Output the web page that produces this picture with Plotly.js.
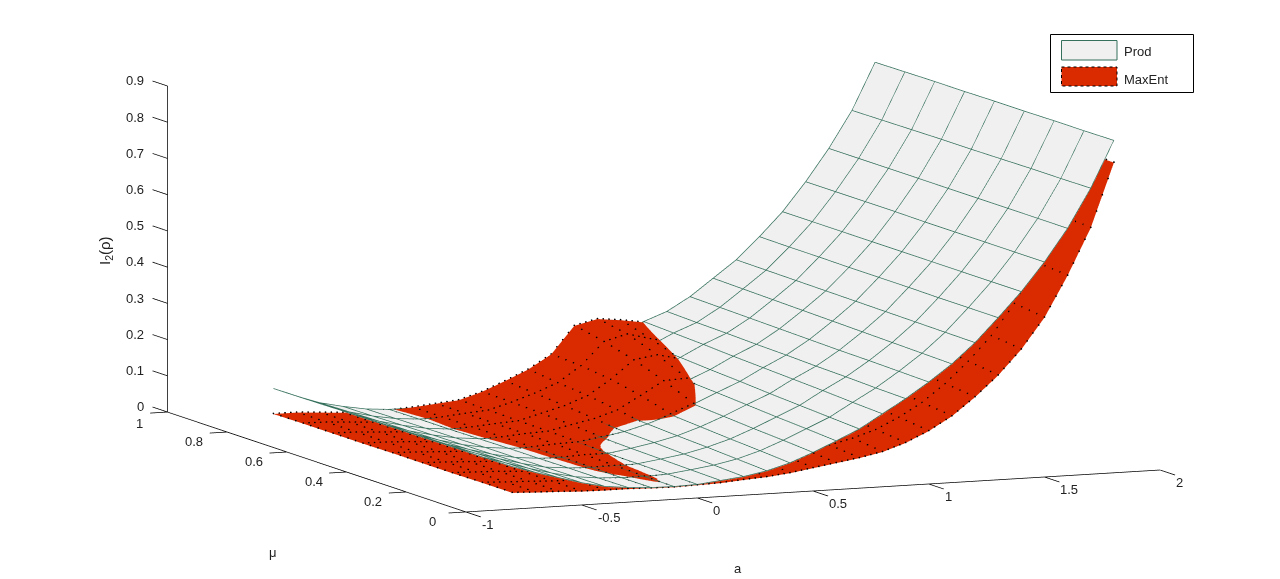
<!DOCTYPE html>
<html>
<head>
<meta charset="utf-8">
<script src="https://cdn.plot.ly/plotly-3.0.1.min.js"></script>
<style>
  html, body { margin: 0; padding: 0; background: #fff; }
  #chart { width: 1280px; height: 579px; }
</style>
</head>
<body>
<div id="chart"></div>
<script>
//----------------------------------DATA----------------------------------//

const aVals = [-0.8,-0.7,-0.6,-0.5,-0.4,-0.3,-0.2,-0.1,0,0.1,0.2,0.3,0.4,0.5,0.6,0.7,0.8,0.9,1.0,1.1,1.2,1.3,1.4,1.5,1.6,1.7,1.8];
const muVals = [0,0.1,0.2,0.3,0.4,0.5,0.6,0.7,0.8];

// one row per a value, one column per mu value
const prodZ = [
  [.116,.115,.115,.114,.114,.113,.113,.112,.111],
  [.096,.095,.094,.092,.091,.090,.089,.087,.086],
  [.078,.076,.075,.073,.071,.069,.068,.066,.064],
  [.060,.059,.058,.056,.055,.054,.053,.051,.050],
  [.046,.045,.044,.043,.043,.042,.041,.040,.039],
  [.039,.038,.038,.037,.037,.036,.035,.035,.034],
  [.035,.035,.035,.035,.035,.034,.034,.034,.034],
  [.034,.034,.035,.035,.036,.036,.037,.037,.038],
  [.036,.037,.038,.039,.041,.042,.043,.045,.046],
  [.043,.045,.047,.049,.052,.054,.056,.058,.060],
  [.050,.054,.057,.061,.064,.068,.071,.075,.078],
  [.062,.067,.072,.076,.081,.086,.091,.095,.100],
  [.080,.086,.091,.097,.103,.108,.114,.119,.125],
  [.105,.111,.116,.122,.128,.133,.139,.144,.150],
  [.133,.139,.144,.150,.156,.161,.167,.172,.178],
  [.162,.167,.172,.177,.183,.188,.194,.199,.205],
  [.200,.204,.209,.213,.217,.221,.226,.230,.234],
  [.238,.240,.243,.245,.248,.250,.253,.255,.258],
  [.280,.282,.284,.285,.287,.289,.291,.293,.295],
  [.326,.328,.330,.332,.334,.336,.338,.340,.342],
  [.381,.382,.383,.384,.385,.386,.387,.388,.389],
  [.446,.446,.446,.447,.447,.447,.448,.448,.449],
  [.514,.514,.514,.514,.514,.514,.514,.514,.514],
  [.592,.592,.592,.592,.592,.593,.593,.593,.593],
  [.681,.681,.681,.681,.681,.681,.681,.681,.681],
  [.788,.787,.787,.786,.785,.785,.784,.783,.782],
  [.916,.915,.915,.914,.914,.913,.913,.912,.911]
];

const maxEntZ = [
  [.045,.045,.044,.044,.044,.043,.043,.043,.042],
  [.042,.042,.042,.042,.042,.042,.042,.042,.042],
  [.040,.040,.040,.039,.039,.039,.038,.038,.038],
  [.037,.037,.036,.036,.036,.035,.035,.034,.034],
  [.036,.036,.035,.035,.034,.034,.033,.033,.032],
  [.036,.036,.035,.035,.034,.034,.034,.033,.033],
  [.034,.034,.036,.036,.037,.037,.037,.037,.037],
  [.033,.035,.037,.039,.041,.042,.042,.043,.043],
  [.035,.035,.036,.039,.043,.045,.046,.048,.049],
  [.037,.039,.041,.044,.053,.059,.063,.066,.068],
  [.042,.044,.047,.051,.062,.072,.080,.087,.094],
  [.046,.050,.055,.062,.078,.092,.104,.112,.122],
  [.053,.060,.068,.080,.105,.128,.145,.155,.160],
  [.063,.070,.078,.095,.130,.165,.195,.218,.235],
  [.073,.080,.090,.105,.135,.168,.205,.235,.250],
  [.083,.090,.100,.115,.130,.155,.190,.218,.243],
  [.096,.105,.115,.130,.145,.160,.180,.205,.233],
  [.117,.125,.135,.150,.165,.180,.200,.220,.235],
  [.146,.155,.165,.180,.195,.210,.225,.240,.260],
  [.183,.192,.205,.218,.232,.246,.260,.280,.300],
  [.232,.240,.250,.263,.277,.290,.305,.325,.350],
  [.288,.298,.310,.322,.335,.349,.365,.385,.410],
  [.356,.365,.375,.387,.400,.414,.430,.450,.470],
  [.440,.450,.460,.472,.485,.500,.515,.530,.550],
  [.552,.558,.566,.575,.585,.595,.605,.620,.640],
  [.680,.685,.690,.696,.702,.710,.720,.735,.750],
  [.856,.858,.860,.862,.864,.866,.868,.872,.880]
];

const aTicks = [-1,-0.5,0,0.5,1,1.5,2];
const muTicks = [0,0.2,0.4,0.6,0.8,1];
const zTicks = [0,0.1,0.2,0.3,0.4,0.5,0.6,0.7,0.8,0.9];

const prodFill = '#f0f0f0';
const prodLine = '#35705c';
const maxEntFill = '#d92a00';
const fontName = '"Liberation Sans", Arial, sans-serif';

//----------------------------------TRACES----------------------------------//

// plotly wants z[row][col] with y on the rows, so flip it
function flip(matrix) {
  return muVals.map((_, j) => matrix.map(row => row[j]));
}

function flatSurface(name, matrix, color) {
  return {
    type: 'surface',
    name: name,
    x: aVals,
    y: muVals,
    z: flip(matrix),
    showscale: false,
    hoverinfo: 'skip',
    colorscale: [[0, color], [1, color]],
    lighting: { ambient: 1, diffuse: 0, specular: 0, fresnel: 0, roughness: 1 }
  };
}

const lift = 0.0015; // keeps the mesh just above its own surface

// grid lines of a surface, one scatter3d trace with gaps between the lines
function gridLines(matrix, line) {
  const xs = [], ys = [], zs = [];
  matrix.forEach((row, i) => {
    row.forEach((v, j) => { xs.push(aVals[i]); ys.push(muVals[j]); zs.push(v + lift); });
    xs.push(null); ys.push(null); zs.push(null);
  });
  muVals.forEach((mu, j) => {
    matrix.forEach((row, i) => { xs.push(aVals[i]); ys.push(mu); zs.push(row[j] + lift); });
    xs.push(null); ys.push(null); zs.push(null);
  });
  return { type: 'scatter3d', mode: 'lines', x: xs, y: ys, z: zs, line: line, hoverinfo: 'skip', showlegend: false };
}

// matlab dotted edges: gl dash is too long here so dots go along each grid segment
function gridDots(matrix, perSegment) {
  const xs = [], ys = [], zs = [];
  const addSegment = (a0, m0, z0, a1, m1, z1) => {
    for (let k = 0; k < perSegment; k++) {
      const t = k / perSegment;
      xs.push(a0 + (a1 - a0) * t);
      ys.push(m0 + (m1 - m0) * t);
      zs.push(z0 + (z1 - z0) * t + lift);
    }
  };
  matrix.forEach((row, i) => {
    row.forEach((v, j) => {
      if (j < row.length - 1) addSegment(aVals[i], muVals[j], v, aVals[i], muVals[j + 1], row[j + 1]);
      if (i < matrix.length - 1) addSegment(aVals[i], muVals[j], v, aVals[i + 1], muVals[j], matrix[i + 1][j]);
    });
  });
  return { type: 'scatter3d', mode: 'markers', x: xs, y: ys, z: zs,
    marker: { size: 1, color: '#000000', line: { width: 0 } }, hoverinfo: 'skip', showlegend: false };
}

// the three matlab axis lines and their ticks, native gl ones come out too pale
function axesTrace() {
  const xs = [], ys = [], zs = [];
  const seg = (x0, y0, z0, x1, y1, z1) => {
    xs.push(x0, x1, null); ys.push(y0, y1, null); zs.push(z0, z1, null);
  };
  seg(-1, 0, 0, 2, 0, 0);
  seg(-1, 0, 0, -1, 1, 0);
  seg(-1, 1, 0, -1, 1, 0.9);
  aTicks.forEach(t => seg(t, 0, 0, t, -0.05, 0));
  muTicks.forEach(t => seg(-1, t, 0, -1.075, t, 0));
  zTicks.forEach(t => seg(-1, 1, t, -1, 1.05, t));
  return { type: 'scatter3d', mode: 'lines', x: xs, y: ys, z: zs,
    line: { color: '#000000', width: 1.5 }, hoverinfo: 'skip', showlegend: false };
}

const traces = [
  flatSurface('Prod', prodZ, prodFill),
  flatSurface('MaxEnt', maxEntZ, maxEntFill),
  gridLines(prodZ, { color: prodLine, width: 1.5 }),
  gridDots(maxEntZ, 4),
  axesTrace()
];

//----------------------------------LAYOUT----------------------------------//

function tickAnnotations() {
  const base = { showarrow: false, font: { family: fontName, size: 13, color: '#222222' } };
  const notes = [];
  aTicks.forEach(t => notes.push({ ...base, x: t, y: 0, z: 0, text: String(t), xanchor: 'left', xshift: 14, yshift: -13 }));
  muTicks.forEach(t => notes.push({ ...base, x: -1, y: t, z: 0, text: String(t), xanchor: 'center', xshift: t === 1 ? -28 : -33, yshift: t === 1 ? -12 : -10 }));
  zTicks.forEach(t => notes.push({ ...base, x: -1, y: 1, z: t, text: String(t), xanchor: 'right', xshift: -21, yshift: 5 }));
  return notes;
}

function hiddenAxis(range) {
  return {
    range: range,
    title: { text: '' },
    showticklabels: false,
    ticks: '',
    showgrid: false,
    zeroline: false,
    showbackground: false,
    showspikes: false,
    showline: false
  };
}

const px = v => v / 1280;
const py = v => 1 - v / 579;

function box(x0, y0, x1, y1, fill, line) {
  return { type: 'rect', xref: 'paper', yref: 'paper', x0: px(x0), y0: py(y0), x1: px(x1), y1: py(y1), fillcolor: fill, line: line, layer: 'above' };
}

function paperText(text, x, y, extra) {
  return { xref: 'paper', yref: 'paper', x: px(x), y: py(y), text: text, showarrow: false, xanchor: 'center', yanchor: 'middle',
    font: { family: fontName, size: 13, color: '#222222' }, ...extra };
}

const eyeDist = 3;
const zoomFactor = 2.763;

const layout = {
  width: 1280,
  height: 579,
  margin: { t: 0, b: 0, l: 0, r: 0 },
  paper_bgcolor: '#ffffff',
  showlegend: false,
  scene: {
    domain: { x: [0.018, 1], y: [0.0577, 1] },
    aspectmode: 'manual',
    aspectratio: { x: 3.1 / 3 * zoomFactor, y: 1.012 * 1.125 * zoomFactor, z: 0.461 * 0.97 / 0.95 * zoomFactor },
    camera: {
      projection: { type: 'orthographic' },
      center: { x: 0, y: 0, z: 0 },
      up: { x: 0, y: 0, z: 1 },
      eye: { x: -0.387 * eyeDist, y: -0.911 * eyeDist, z: 0.1422 * eyeDist }
    },
    xaxis: hiddenAxis([-1.1, 2]),
    yaxis: hiddenAxis([-0.06, 1.065]),
    zaxis: hiddenAxis([-0.02, 0.95]),
    annotations: tickAnnotations()
  },
  shapes: [
    box(1050.5, 34.5, 1193.5, 92.5, '#ffffff', { color: '#000000', width: 1 }),
    box(1061.5, 40.5, 1117, 60, prodFill, { color: prodLine, width: 1 }),
    box(1061.5, 67, 1117, 86, maxEntFill, { color: '#000000', width: 1, dash: 'dot' })
  ],
  annotations: [
    paperText('Prod', 1122, 52, { xanchor: 'left' }),
    paperText('MaxEnt', 1122, 79, { xanchor: 'left' }),
    paperText('a', 738, 568),
    paperText('μ', 273, 552),
    paperText('I<sub>2</sub>(ρ)', 105, 251, { textangle: -90, font: { family: fontName, size: 15, color: '#222222' } })
  ]
};

Plotly.newPlot('chart', traces, layout, { displayModeBar: false, responsive: false });
</script>
</body>
</html>
